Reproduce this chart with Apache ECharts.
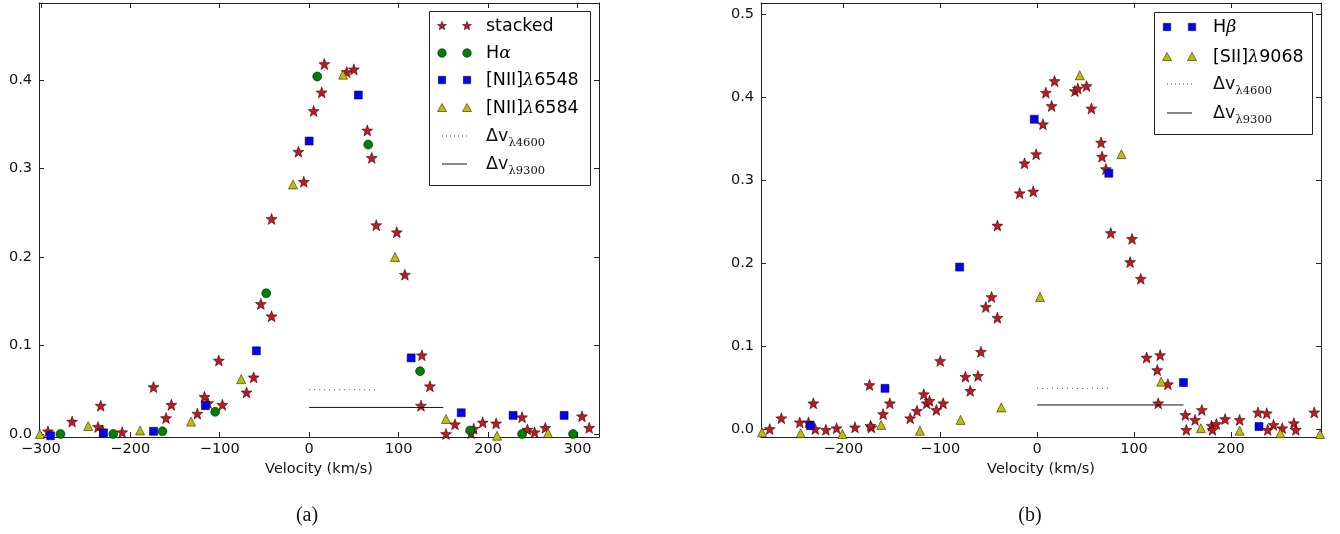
<!DOCTYPE html>
<html>
<head>
<meta charset="utf-8">
<script src="https://cdn.jsdelivr.net/npm/echarts@6/dist/echarts.min.js"></script>
<style>
html,body{margin:0;padding:0;background:#fff;}
#chart{width:1340px;height:534px;}
</style>
</head>
<body>
<div id="chart"></div>
<script>
// ---------- DATA ----------
// Panel (a)
const aXTicks = [-300, -200, -100, 0, 100, 200, 300];
const aYTicks = [0.0, 0.1, 0.2, 0.3, 0.4];
const aStacked = [[-292,0.003],[-265,0.014],[-233,0.032],[-236,0.008],[-231,0.004],[-209,0.002],[-174,0.053],[-160,0.018],[-154,0.033],[-125,0.023],[-117,0.042],[-113,0.035],[-97,0.033],[-101,0.083],[-70,0.047],[-62,0.064],[-54,0.147],[-42,0.133],[-42,0.243],[-12,0.319],[-6,0.285],[5,0.365],[14,0.386],[17,0.418],[42,0.409],[50,0.412],[65,0.343],[70,0.312],[75,0.236],[98,0.228],[107,0.180],[126,0.089],[135,0.054],[125,0.032],[153,0.000],[163,0.011],[184,0.006],[194,0.013],[209,0.012],[238,0.019],[244,0.005],[252,0.002],[264,0.007],[305,0.020],[313,0.007],[181,0.001]];
const aHalpha = [[-278,0.000],[-219,0.000],[-164,0.003],[-105,0.025],[-48,0.159],[9,0.404],[66,0.327],[124,0.071],[180,0.004],[238,0.000],[295,0.000]];
const aNII6548 = [[-289,-0.002],[-230,0.001],[-174,0.003],[-116,0.032],[-59,0.094],[0,0.331],[55,0.383],[114,0.086],[170,0.024],[228,0.021],[285,0.021]];
const aNII6584 = [[-301,0.000],[-247,0.009],[-189,0.004],[-132,0.014],[-76,0.062],[-18,0.282],[38,0.406],[96,0.200],[153,0.017],[210,-0.002],[267,0.001]];
const aDv4600 = [[0,0.05],[75,0.05]];
const aDv9300 = [[0,0.03],[150,0.03]];
// Panel (b)
const bXTicks = [-200, -100, 0, 100, 200];
const bYTicks = [0.0, 0.1, 0.2, 0.3, 0.4, 0.5];
const bStacked = [[-276,0.000],[-264,0.013],[-245,0.008],[-236,0.008],[-231,0.031],[-229,0.000],[-218,-0.001],[-207,0.001],[-188,0.002],[-173,0.053],[-171,0.002],[-172,0.004],[-159,0.018],[-152,0.031],[-131,0.013],[-124,0.022],[-117,0.042],[-114,0.031],[-111,0.034],[-104,0.023],[-97,0.031],[-100,0.082],[-74,0.063],[-69,0.046],[-61,0.064],[-58,0.093],[-53,0.147],[-47,0.159],[-41,0.134],[-41,0.245],[-18,0.284],[-13,0.320],[-4,0.286],[-1,0.331],[6,0.367],[9,0.405],[15,0.389],[18,0.419],[39,0.407],[42,0.410],[51,0.413],[56,0.386],[66,0.345],[67,0.328],[71,0.313],[76,0.236],[98,0.229],[96,0.201],[107,0.181],[113,0.086],[127,0.089],[124,0.071],[135,0.054],[125,0.031],[153,0.017],[154,-0.001],[163,0.011],[170,0.023],[180,0.004],[181,-0.001],[185,0.006],[194,0.012],[209,0.011],[228,0.020],[237,0.019],[238,-0.001],[244,0.005],[253,0.001],[265,0.007],[267,-0.001],[286,0.020]];
const bHbeta = [[-234,0.004],[-157,0.049],[-80,0.195],[-3,0.373],[74,0.308],[151,0.056],[229,0.003]];
const bSII9068 = [[-284,-0.004],[-244,-0.005],[-201,-0.006],[-161,0.005],[-121,-0.002],[-79,0.011],[-37,0.026],[3,0.159],[44,0.426],[87,0.331],[128,0.057],[169,0.001],[209,-0.002],[251,-0.005],[292,-0.006]];
const bDv4600 = [[0,0.049],[74,0.049]];
const bDv9300 = [[0,0.029],[151,0.029]];

// ---------- STYLE ----------
const C_STAR = '#c8161c', C_GREEN = '#008000', C_BLUE = '#0000ff', C_YEL = '#bfbf00';
const FONT = 'DejaVu Sans';
const AXC = '#222';

function starPts(cx, cy, R) {
  const p = [];
  for (let i = 0; i < 10; i++) {
    const a = (-90 + i * 36) * Math.PI / 180;
    const r = i % 2 ? R * 0.42 : R;
    p.push([cx + r * Math.cos(a), cy + r * Math.sin(a)]);
  }
  return p;
}
const STAR_PATH = 'path://' + starPts(50, 50, 50).map((q, i) => (i ? 'L' : 'M') + q[0].toFixed(2) + ' ' + q[1].toFixed(2)).join(' ') + ' Z';

const fmtX = v => (v < 0 ? '\u2212' + (-v) : String(v));
const fmtY = v => v.toFixed(1);

function xAx(grid, min, max, ticks, pos, showLabel) {
  return {
    gridIndex: grid, type: 'value', position: pos, min: min, max: max,
    splitLine: {show: false},
    axisLine: {show: true, onZero: false, lineStyle: {color: AXC, width: 1}},
    axisTick: {show: true, inside: true, length: 5, customValues: ticks, lineStyle: {color: AXC}},
    axisLabel: {show: showLabel, customValues: ticks, formatter: fmtX, fontFamily: FONT, fontSize: 14.5, color: '#111', margin: 5},
    name: showLabel ? 'Velocity (km/s)' : '', nameLocation: 'middle', nameGap: 24,
    nameTextStyle: {fontFamily: FONT, fontSize: 14.5, color: '#111'}
  };
}
function yAx(grid, min, max, ticks, pos, showLabel) {
  return {
    gridIndex: grid, type: 'value', position: pos, min: min, max: max,
    splitLine: {show: false},
    axisLine: {show: true, onZero: false, lineStyle: {color: AXC, width: 1}},
    axisTick: {show: true, inside: true, length: 5, customValues: ticks, lineStyle: {color: AXC}},
    axisLabel: {show: showLabel, customValues: ticks, formatter: fmtY, fontFamily: FONT, fontSize: 14.5, color: '#111', margin: 7}
  };
}

function scat(name, data, xi, yi, symbol, size, color) {
  return {
    name: name, type: 'scatter', xAxisIndex: xi, yAxisIndex: yi, data: data,
    symbol: symbol, symbolSize: size, clip: true,
    itemStyle: {color: color, borderColor: '#000', borderWidth: 0.5, opacity: 1},
    emphasis: {disabled: true}
  };
}
function seg(name, data, xi, yi, type, color) {
  return {
    name: name, type: 'line', xAxisIndex: xi, yAxisIndex: yi, data: data,
    symbol: 'none', silent: true,
    lineStyle: {color: color, width: 1, type: type}
  };
}

// ---------- LEGEND (graphic) ----------
function marker(kind, cx, cy) {
  const st = {lineWidth: 0.5, stroke: '#000'};
  if (kind === 'star') return {type: 'polygon', shape: {points: starPts(cx, cy, 4.7)}, style: Object.assign({fill: C_STAR}, st)};
  if (kind === 'circle') return {type: 'circle', shape: {cx: cx, cy: cy, r: 4.3}, style: Object.assign({fill: C_GREEN}, st)};
  if (kind === 'square') return {type: 'rect', shape: {x: cx - 3.7, y: cy - 3.7, width: 7.4, height: 7.4}, style: Object.assign({fill: C_BLUE}, st)};
  if (kind === 'triangle') return {type: 'polygon', shape: {points: [[cx, cy - 4.5], [cx + 4.5, cy + 3.5], [cx - 4.5, cy + 3.5]]}, style: Object.assign({fill: C_YEL}, st)};
}
function legend(box, mx1, mx2, tx, rows) {
  const els = [{type: 'rect', shape: box, style: {fill: '#fff', stroke: '#222', lineWidth: 1}, z: 100}];
  rows.forEach(r => {
    if (r.kind === 'dotted' || r.kind === 'solid') {
      els.push({type: 'line', shape: {x1: mx1, y1: r.y, x2: mx2, y2: r.y},
        style: {stroke: r.kind === 'dotted' ? '#444' : '#111', lineWidth: 1, lineDash: r.kind === 'dotted' ? [1, 3] : null}, z: 101});
    } else {
      const a = marker(r.kind, mx1, r.y); a.z = 101; els.push(a);
      const b = marker(r.kind, mx2, r.y); b.z = 101; els.push(b);
    }
    if (r.sub) {
      els.push({type: 'text', z: 101, style: {x: tx, y: r.y, text: r.text, fontFamily: FONT, fontSize: 17.5, fill: '#111', verticalAlign: 'middle'}});
      els.push({type: 'text', z: 101, style: {x: tx + 22.5, y: r.y + 7, text: r.sub, fontFamily: 'DejaVu Serif', fontSize: 11.5, fill: '#111', verticalAlign: 'middle'}});
    } else {
      els.push({type: 'text', z: 101, style: {x: tx, y: r.y, text: r.text, verticalAlign: 'middle',
        rich: {n: {fontFamily: FONT, fontSize: 17.5, color: '#111'}, g: {fontFamily: 'DejaVu Serif', fontStyle: 'italic', fontSize: 17.5, color: '#111'}}}});
    }
  });
  return els;
}

const legendA = legend({x: 429.5, y: 11.5, width: 161, height: 174}, 442, 467, 486, [
  {kind: 'star', y: 26, text: '{n|stacked}'},
  {kind: 'circle', y: 53, text: '{n|H}{g|α}'},
  {kind: 'square', y: 80, text: '{n|[NII]}{g|λ}{n|6548}'},
  {kind: 'triangle', y: 108, text: '{n|[NII]}{g|λ}{n|6584}'},
  {kind: 'dotted', y: 136, text: 'Δv', sub: 'λ4600'},
  {kind: 'solid', y: 164, text: 'Δv', sub: 'λ9300'}
]);
const legendB = legend({x: 1154.5, y: 12.5, width: 158, height: 122}, 1167, 1192, 1213, [
  {kind: 'square', y: 27, text: '{n|H}{g|β}'},
  {kind: 'triangle', y: 57, text: '{n|[SII]}{g|λ}{n|9068}'},
  {kind: 'dotted', y: 84, text: 'Δv', sub: 'λ4600'},
  {kind: 'solid', y: 113, text: 'Δv', sub: 'λ9300'}
]);

const captions = [
  {type: 'text', style: {x: 307, y: 516, text: '(a)', fontFamily: 'Liberation Serif', fontSize: 20, fill: '#111', align: 'center', verticalAlign: 'middle'}},
  {type: 'text', style: {x: 1030, y: 516, text: '(b)', fontFamily: 'Liberation Serif', fontSize: 20, fill: '#111', align: 'center', verticalAlign: 'middle'}}
];

const chart = echarts.init(document.getElementById('chart'), null, {renderer: 'canvas'});
chart.setOption({
  animation: false,
  backgroundColor: '#fff',
  grid: [
    {left: 39, top: 3, width: 560, height: 434},
    {left: 761, top: 3, width: 560, height: 434}
  ],
  xAxis: [
    xAx(0, -302, 324, aXTicks, 'bottom', true),
    xAx(0, -302, 324, aXTicks, 'top', false),
    xAx(1, -285, 293, bXTicks, 'bottom', true),
    xAx(1, -285, 293, bXTicks, 'top', false)
  ],
  yAxis: [
    yAx(0, -0.0034, 0.487, aYTicks, 'left', true),
    yAx(0, -0.0034, 0.487, aYTicks, 'right', false),
    yAx(1, -0.0096, 0.513, bYTicks, 'left', true),
    yAx(1, -0.0096, 0.513, bYTicks, 'right', false)
  ],
  series: [
    scat('stacked', aStacked, 0, 0, STAR_PATH, 11, C_STAR),
    scat('Hα', aHalpha, 0, 0, 'circle', 9, C_GREEN),
    scat('[NII]λ6548', aNII6548, 0, 0, 'rect', 8, C_BLUE),
    scat('[NII]λ6584', aNII6584, 0, 0, 'triangle', 9, C_YEL),
    seg('Δv λ4600 (a)', aDv4600, 0, 0, [1, 4], '#444'),
    seg('Δv λ9300 (a)', aDv9300, 0, 0, 'solid', '#111'),
    scat('stacked (b)', bStacked, 2, 2, STAR_PATH, 11, C_STAR),
    scat('Hβ', bHbeta, 2, 2, 'rect', 8, C_BLUE),
    scat('[SII]λ9068', bSII9068, 2, 2, 'triangle', 9, C_YEL),
    seg('Δv λ4600 (b)', bDv4600, 2, 2, [1, 4], '#444'),
    seg('Δv λ9300 (b)', bDv9300, 2, 2, 'solid', '#111')
  ],
  graphic: legendA.concat(legendB, captions)
});
</script>
</body>
</html>
